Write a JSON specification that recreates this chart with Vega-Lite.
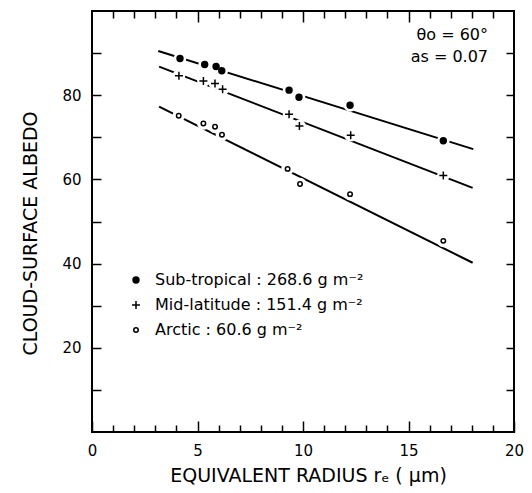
{
  "$schema": "https://vega.github.io/schema/vega-lite/v6.json",
  "width": 422,
  "height": 421,
  "autosize": "none",
  "padding": {"left": 92, "top": 11, "right": 18, "bottom": 61},
  "background": "white",
  "config": {
    "font": "DejaVu Sans",
    "view": {"stroke": "black", "strokeWidth": 2},
    "axis": {
      "grid": false,
      "domain": false,
      "ticks": true,
      "tickColor": "black",
      "tickWidth": 1.5,
      "labelColor": "black",
      "labelFont": "DejaVu Sans",
      "labelFontSize": 15,
      "labelOverlap": false,
      "labelFlush": false,
      "titleColor": "black",
      "titleFont": "DejaVu Sans",
      "titleFontWeight": "normal",
      "titleFontSize": 19
    }
  },
  "datasets": {
    "points": [
      {"series": "Sub-tropical : 268.6 g m⁻²", "r": 4.17, "albedo": 88.7},
      {"series": "Sub-tropical : 268.6 g m⁻²", "r": 5.34, "albedo": 87.3},
      {"series": "Sub-tropical : 268.6 g m⁻²", "r": 5.88, "albedo": 86.8},
      {"series": "Sub-tropical : 268.6 g m⁻²", "r": 6.15, "albedo": 85.8},
      {"series": "Sub-tropical : 268.6 g m⁻²", "r": 9.34, "albedo": 81.2},
      {"series": "Sub-tropical : 268.6 g m⁻²", "r": 9.81, "albedo": 79.5},
      {"series": "Sub-tropical : 268.6 g m⁻²", "r": 12.23, "albedo": 77.6},
      {"series": "Sub-tropical : 268.6 g m⁻²", "r": 16.65, "albedo": 69.2},
      {"series": "Mid-latitude : 151.4 g m⁻²", "r": 4.12, "albedo": 84.6},
      {"series": "Mid-latitude : 151.4 g m⁻²", "r": 5.28, "albedo": 83.4},
      {"series": "Mid-latitude : 151.4 g m⁻²", "r": 5.83, "albedo": 82.8},
      {"series": "Mid-latitude : 151.4 g m⁻²", "r": 6.19, "albedo": 81.4},
      {"series": "Mid-latitude : 151.4 g m⁻²", "r": 9.34, "albedo": 75.5},
      {"series": "Mid-latitude : 151.4 g m⁻²", "r": 9.83, "albedo": 72.7},
      {"series": "Mid-latitude : 151.4 g m⁻²", "r": 12.26, "albedo": 70.5},
      {"series": "Mid-latitude : 151.4 g m⁻²", "r": 16.65, "albedo": 60.9},
      {"series": "Arctic : 60.6 g m⁻²", "r": 4.11, "albedo": 75.1},
      {"series": "Arctic : 60.6 g m⁻²", "r": 5.28, "albedo": 73.3},
      {"series": "Arctic : 60.6 g m⁻²", "r": 5.83, "albedo": 72.5},
      {"series": "Arctic : 60.6 g m⁻²", "r": 6.16, "albedo": 70.6},
      {"series": "Arctic : 60.6 g m⁻²", "r": 9.27, "albedo": 62.5},
      {"series": "Arctic : 60.6 g m⁻²", "r": 9.86, "albedo": 58.9},
      {"series": "Arctic : 60.6 g m⁻²", "r": 12.23, "albedo": 56.5},
      {"series": "Arctic : 60.6 g m⁻²", "r": 16.65, "albedo": 45.4}
    ],
    "fits": [
      {"series": "Sub-tropical : 268.6 g m⁻²", "r": 3.14, "albedo": 90.5},
      {"series": "Sub-tropical : 268.6 g m⁻²", "r": 18.07, "albedo": 67.2},
      {"series": "Mid-latitude : 151.4 g m⁻²", "r": 3.18, "albedo": 86.8},
      {"series": "Mid-latitude : 151.4 g m⁻²", "r": 18.04, "albedo": 58.0},
      {"series": "Arctic : 60.6 g m⁻²", "r": 3.18, "albedo": 77.3},
      {"series": "Arctic : 60.6 g m⁻²", "r": 18.04, "albedo": 40.2}
    ],
    "notes": [
      {"text": "θo = 60°", "r": 18.77, "albedo": 94.3},
      {"text": "as = 0.07", "r": 18.77, "albedo": 89.1}
    ]
  },
  "layer": [
    {
      "data": {"name": "fits"},
      "mark": {"type": "line", "color": "black", "strokeWidth": 2},
      "encoding": {
        "x": {
          "field": "r", "type": "quantitative",
          "scale": {"domain": [0, 20], "nice": false},
          "title": "EQUIVALENT RADIUS rₑ ( μm)",
          "axis": {
            "orient": "bottom",
            "values": [0, 5, 10, 15, 20],
            "tickSize": -11,
            "labelPadding": 22,
            "titleX": 216,
            "titleY": 43,
            "titleBaseline": "middle"
          }
        },
        "y": {
          "field": "albedo", "type": "quantitative",
          "scale": {"domain": [0, 100], "nice": false},
          "title": "CLOUD-SURFACE ALBEDO",
          "axis": {
            "orient": "left",
            "values": [10,20,30,40,50,60,70,80,90],
            "labelExpr": "datum.value % 20 === 0 ? datum.label : ''",
            "tickSize": -9,
            "labelPadding": 20,
            "titleX": -62,
            "titleY": 222,
            "titleBaseline": "middle",
            "titleAngle": -90
          }
        },
        "detail": {"field": "series"}
      }
    },
    {
      "data": {"name": "points"},
      "mark": {"type": "point", "shape": "circle", "filled": true, "color": "white", "opacity": 1, "size": 160},
      "encoding": {
        "x": {
          "field": "r", "type": "quantitative",
          "axis": {
            "orient": "top",
            "values": [5, 10, 15],
            "tickSize": -11,
            "labels": false,
            "title": null
          }
        },
        "y": {
          "field": "albedo", "type": "quantitative",
          "axis": {
            "orient": "right",
            "values": [10,20,30,40,50,60,70,80,90],
            "tickSize": -8,
            "labels": false,
            "title": null
          }
        }
      }
    },
    {
      "data": {"name": "points"},
      "mark": {"type": "point", "stroke": "black", "strokeWidth": 1.5, "opacity": 1},
      "encoding": {
        "x": {
          "field": "r", "type": "quantitative",
          "axis": {
            "orient": "bottom",
            "values": [1,2,3,4,6,7,8,9,11,12,13,14,16,17,18,19],
            "tickSize": -7,
            "labels": false,
            "title": null
          }
        },
        "y": {"field": "albedo", "type": "quantitative", "axis": null},
        "shape": {
          "field": "series", "type": "nominal",
          "scale": {
            "domain": ["Sub-tropical : 268.6 g m⁻²", "Mid-latitude : 151.4 g m⁻²", "Arctic : 60.6 g m⁻²"],
            "range": ["circle", "M-1,0H1M0,-1V1", "circle"]
          },
          "legend": {
            "title": null,
            "orient": "none",
            "legendX": 36,
            "legendY": 261,
            "padding": 0,
            "labelFont": "DejaVu Sans",
            "labelFontSize": 16,
            "labelColor": "black",
            "labelOffset": 11,
            "rowPadding": 9,
            "symbolStrokeColor": "black",
            "symbolStrokeWidth": 1.5,
            "labelLimit": 400
          }
        },
        "fill": {
          "field": "series", "type": "nominal",
          "scale": {
            "domain": ["Sub-tropical : 268.6 g m⁻²", "Mid-latitude : 151.4 g m⁻²", "Arctic : 60.6 g m⁻²"],
            "range": ["black", "transparent", "white"]
          }
        },
        "size": {
          "field": "series", "type": "ordinal",
          "scale": {
            "type": "ordinal",
            "domain": ["Sub-tropical : 268.6 g m⁻²", "Mid-latitude : 151.4 g m⁻²", "Arctic : 60.6 g m⁻²"],
            "range": [35, 64, 20]
          }
        }
      }
    },
    {
      "data": {"name": "notes"},
      "mark": {"type": "text", "align": "right", "baseline": "middle", "fontSize": 16, "font": "DejaVu Sans", "color": "black"},
      "encoding": {
        "x": {
          "field": "r", "type": "quantitative",
          "axis": {
            "orient": "top",
            "values": [1,2,3,4,6,7,8,9,11,12,13,14,16,17,18,19],
            "tickSize": -7,
            "labels": false,
            "title": null
          }
        },
        "y": {"field": "albedo", "type": "quantitative", "axis": null},
        "text": {"field": "text"}
      }
    }
  ],
  "resolve": {"axis": {"x": "independent", "y": "independent"}}
}
